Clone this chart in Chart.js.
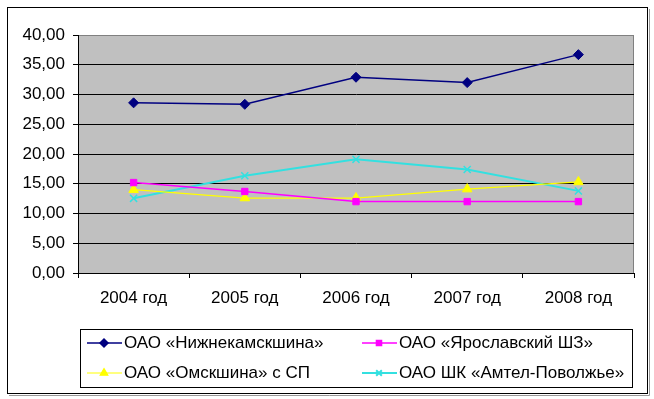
<!DOCTYPE html>
<html>
<head>
<meta charset="utf-8">
<script src="https://cdn.jsdelivr.net/npm/chart.js"></script>
<style>
  body { margin: 0; background: #fff; }
  canvas { display: block; }
</style>
</head>
<body>
<canvas id="chart" width="654" height="399"></canvas>
<script>
// data
var years = ['2004 год', '2005 год', '2006 год', '2007 год', '2008 год'];
var nizhnekamsk = [28.6, 28.35, 32.9, 32.0, 36.7];
var yaroslavl = [15.2, 13.7, 12.0, 12.0, 12.0];
var omsk = [14.0, 12.6, 12.6, 14.1, 15.3];
var amtel = [12.55, 16.35, 19.1, 17.4, 13.8];
var seriesNames = ['ОАО «Нижнекамскшина»', 'ОАО «Ярославский ШЗ»', 'ОАО «Омскшина» с СП', 'ОАО ШК «Амтел-Поволжье»'];

var FONT = 'Liberation Sans, Arial, sans-serif';

function ds(label, values, color, style, radius, width) {
  return {
    label: label,
    data: values,
    borderColor: color,
    backgroundColor: color,
    pointBackgroundColor: color,
    pointBorderColor: color,
    pointStyle: style,
    pointRadius: radius,
    pointBorderWidth: style == 'crossRot' ? 1.5 : 1,
    borderWidth: width,
    tension: 0
  };
}

var datasets = [
  ds(seriesNames[0], nizhnekamsk, '#000080', 'rectRot', 5, 1.5),
  ds(seriesNames[1], yaroslavl, '#FF00FF', 'rect', 4.5, 1.5),
  ds(seriesNames[2], omsk, '#FFFF00', 'triangle', 5.5, 1.2),
  ds(seriesNames[3], amtel, '#33E0E0', 'crossRot', 5, 2)
];

// gray plot area + outer frame
const frame = {
  id: 'frame',
  beforeDraw(chart) {
    const ctx = chart.ctx, a = chart.chartArea;
    ctx.save();
    ctx.fillStyle = '#C0C0C0';
    ctx.fillRect(a.left, a.top, a.right - a.left, a.bottom - a.top);
    ctx.strokeStyle = '#808080';
    ctx.lineWidth = 1;
    ctx.strokeRect(a.left + 0.5, a.top + 0.5, a.right - a.left - 1, a.bottom - a.top);
    ctx.strokeStyle = '#000';
    ctx.strokeRect(7.5, 7.5, 640, 386);
    ctx.strokeStyle = '#999';
    ctx.beginPath();
    ctx.moveTo(649.5, 9);
    ctx.lineTo(649.5, 395.5);
    ctx.lineTo(9, 395.5);
    ctx.stroke();
    ctx.restore();
  }
};

// two-column legend in a box
const boxLegend = {
  id: 'boxLegend',
  afterDraw(chart) {
    const ctx = chart.ctx;
    ctx.save();
    ctx.strokeStyle = '#000';
    ctx.lineWidth = 1;
    ctx.strokeRect(80.5, 329.5, 552, 58);
    var cols = [87, 362];
    var rows = [343, 373];
    ctx.font = '17px ' + FONT;
    ctx.textBaseline = 'middle';
    chart.data.datasets.forEach(function (d, i) {
      var x = cols[i % 2], y = rows[Math.floor(i / 2)];
      ctx.strokeStyle = d.borderColor;
      ctx.fillStyle = d.borderColor;
      ctx.lineWidth = d.borderWidth;
      ctx.beginPath();
      ctx.moveTo(x, y);
      ctx.lineTo(x + 35, y);
      ctx.stroke();
      Chart.helpers.drawPoint(ctx, {
        pointStyle: d.pointStyle,
        radius: d.pointRadius * 0.8,
        rotation: 0,
        borderWidth: d.pointBorderWidth
      }, x + 17, y);
      ctx.fillStyle = '#000';
      ctx.fillText(d.label, x + 37, y);
    });
    ctx.restore();
  }
};

const chart = new Chart(document.getElementById('chart'), {
  type: 'line',
  data: { labels: years, datasets: datasets },
  plugins: [frame, boxLegend],
  options: {
    responsive: false,
    animation: false,
    layout: { padding: { left: 0, top: 35, right: 20, bottom: 0 } },
    plugins: {
      legend: { display: false },
      tooltip: { enabled: false }
    },
    scales: {
      x: {
        offset: true,
        afterFit: function (s) { s.height = 126; },
        grid: {
          offset: true,
          drawOnChartArea: false,
          drawTicks: true,
          tickLength: 5,
          color: '#000'
        },
        border: { display: true, color: '#000' },
        ticks: {
          color: '#000',
          padding: 10,
          maxRotation: 0,
          font: { family: FONT, size: 17 }
        }
      },
      y: {
        min: 0,
        max: 40,
        afterFit: function (s) { s.width = 78; },
        grid: {
          color: function (c) { return c.tick && c.tick.value == 40 ? '#808080' : '#000'; },
          tickColor: '#000',
          tickLength: 5
        },
        border: { display: true, color: '#000' },
        ticks: {
          stepSize: 5,
          color: '#000',
          padding: 8,
          font: { family: FONT, size: 17 },
          callback: function (v) { return v.toFixed(2).replace('.', ','); }
        }
      }
    }
  }
});
</script>
</body>
</html>
